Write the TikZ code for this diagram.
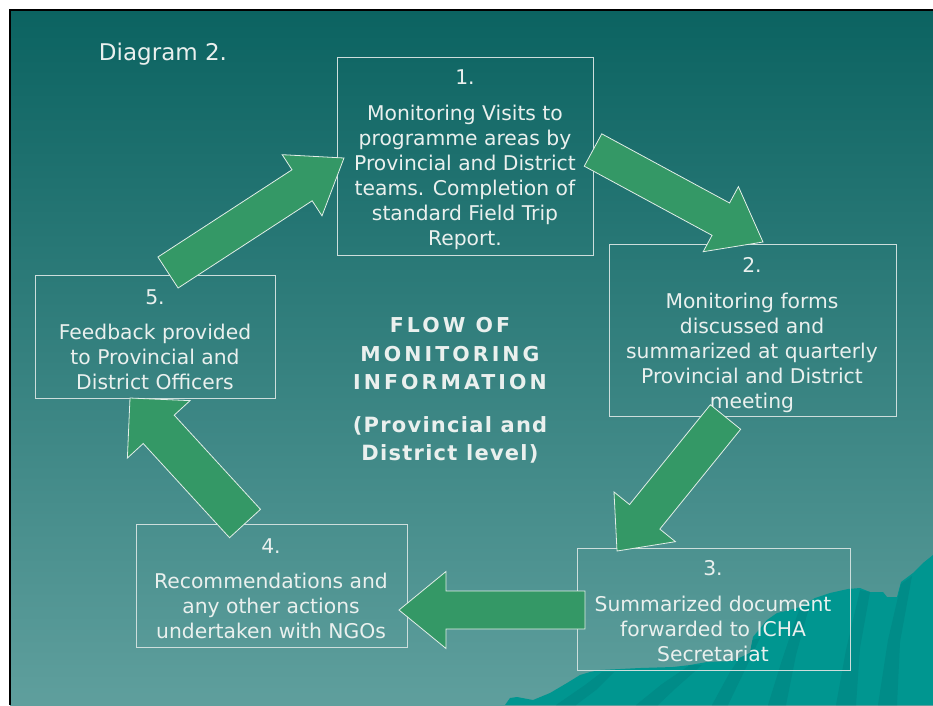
\documentclass[tikz,border=0pt]{standalone}
\usepackage{fontspec}
\setmainfont{DejaVu Sans}
\newfontfamily\capsfont{DejaVu Sans}[LetterSpace=15]
\newfontfamily\subfont{DejaVu Sans}[LetterSpace=6]
\usetikzlibrary{calc}

\definecolor{slidetop}{RGB}{11,99,97}
\definecolor{slidebottom}{RGB}{95,159,157}
\definecolor{boxline}{RGB}{205,222,220}
\definecolor{inktext}{RGB}{234,240,238}
\definecolor{arrowgreen}{RGB}{52,152,102}
\definecolor{arrowedge}{RGB}{226,238,232}
\definecolor{hill}{RGB}{0,150,144}
\definecolor{hilldark}{RGB}{0,140,136}

\tikzset{
  stagebox/.style={draw=boxline, line width=1pt, inner sep=0pt},
  stagetext/.style={text=inktext, align=center, inner sep=0pt,
    font=\fontsize{20.3}{25}\selectfont},
  arrowbody/.style={fill=arrowgreen, draw=arrowedge, line width=0.8pt, line join=miter},
}

% block arrow: tail, tip, half shaft width, half head width, head length
\newcommand\flowarrow[5]{%
  \coordinate (hb) at ($(#2)!#5pt!(#1)$);
  \filldraw[arrowbody]
    ($(#1)!#3pt!90:(#2)$) -- ($(hb)!#3pt!90:(#2)$) -- ($(hb)!#4pt!90:(#2)$)
    -- (#2) -- ($(hb)!#4pt!-90:(#2)$) -- ($(hb)!#3pt!-90:(#2)$)
    -- ($(#1)!#3pt!-90:(#2)$) -- cycle;}

\begin{document}
\begin{tikzpicture}[x=1pt, y=-1pt]
\useasboundingbox (0,0) rectangle (933,705);
\fill[white] (0,0) rectangle (933,705);

% slide background
\shade[top color=slidetop, bottom color=slidebottom] (10,9) rectangle (933,705);

% hills in the lower right corner
\begin{scope}
  \path[clip] (505,705) -- (510,698) -- (517,697) -- (533,700) -- (550,693) -- (567,683)
    -- (580,675) -- (590,672) -- (600,670) -- (640,668) -- (673,667) -- (690,665)
    -- (707,662) -- (733,661) -- (750,653) -- (753,637) -- (767,620) -- (777,613)
    -- (790,610) -- (800,607) -- (815,598) -- (830,593) -- (848,589) -- (860,588)
    -- (870,592) -- (883,592) -- (887,597) -- (897,597) -- (901,582) -- (913,573)
    -- (923,563) -- (933,555) -- (933,705) -- cycle;
  \fill[hill] (500,540) rectangle (933,705);
  \fill[hilldark] (556,705) -- (585,685) -- (602,672) -- (614,672) -- (596,690) -- (576,705) -- cycle;
  \fill[hilldark] (636,705) -- (662,684) -- (690,665) -- (702,665) -- (676,688) -- (658,705) -- cycle;
  \fill[hilldark] (712,705) -- (730,672) -- (752,640) -- (760,638) -- (742,676) -- (728,705) -- cycle;
  \fill[hilldark] (768,705) -- (782,660) -- (800,607) -- (810,604) -- (796,655) -- (786,705) -- cycle;
  \fill[hilldark] (836,705) -- (846,650) -- (860,590) -- (870,592) -- (860,648) -- (856,705) -- cycle;
  \fill[hilldark] (878,705) -- (888,640) -- (901,584) -- (912,576) -- (900,642) -- (897,705) -- cycle;
\end{scope}

% slide frame
\draw[black, line width=2.5pt] (933,10) -- (10,10) -- (10,705);

\node[text=inktext, font=\fontsize{23}{28}\selectfont, inner sep=0pt] (caption) at (163,54) {Diagram 2.};

% stages
\node[stagebox, minimum width=256, minimum height=198] (b1) at (465,156) {};
\node[stagebox, minimum width=287, minimum height=172] (b2) at (752.5,330) {};
\node[stagebox, minimum width=273, minimum height=122] (b3) at (713.5,609) {};
\node[stagebox, minimum width=271, minimum height=123] (b4) at (271.5,585.5) {};
\node[stagebox, minimum width=240, minimum height=123] (b5) at (155,336.5) {};

\node[stagetext] (t1) at (465,159.5) {1.\\[11pt]Monitoring Visits to\\programme areas by\\Provincial and District\\teams. Completion of\\standard Field Trip\\Report.};
\node[stagetext] (t2) at (752,335) {2.\\[11pt]Monitoring forms\\discussed and\\summarized at quarterly\\Provincial and District\\meeting};
\node[stagetext] (t3) at (713,611.5) {3.\\[11pt]Summarized document\\forwarded to ICHA\\Secretariat};
\node[stagetext] (t4) at (271,589) {4.\\[10pt]Recommendations and\\any other actions\\undertaken with NGOs};
\node[stagetext] (t5) at (155,340) {5.\\[10pt]Feedback provided\\to Provincial and\\District Officers};

% centre title
\node[text=inktext, align=center, inner sep=0pt, font=\fontsize{20.5}{28.5}\capsfont\bfseries] (title) at (450,354) {FLOW OF\\MONITORING\\INFORMATION};
\node[text=inktext, align=center, inner sep=0pt, font=\fontsize{21}{28}\subfont\bfseries] (subtitle) at (450,440) {(Provincial and\\District level)};

% flow arrows between the stages
\coordinate (a1tail) at (168,272.5);   \coordinate (a1tip) at (344,158);
\coordinate (a2tail) at (593,150);     \coordinate (a2tip) at (763,242);
\coordinate (a3tail) at (725.5,417);   \coordinate (a3tip) at (617,551);
\coordinate (a4tail) at (585,610);     \coordinate (a4tip) at (399,610);
\coordinate (a5tail) at (245,523.5);   \coordinate (a5tip) at (130,398);

\flowarrow{a1tail}{a1tip}{18.5}{36.5}{50}
\flowarrow{a2tail}{a2tip}{18.4}{37}{48}
\flowarrow{a3tail}{a3tip}{19.5}{39.5}{44}
\flowarrow{a4tail}{a4tip}{19}{38.5}{47}
\flowarrow{a5tail}{a5tip}{21}{42.5}{42.5}
\end{tikzpicture}
\end{document}
